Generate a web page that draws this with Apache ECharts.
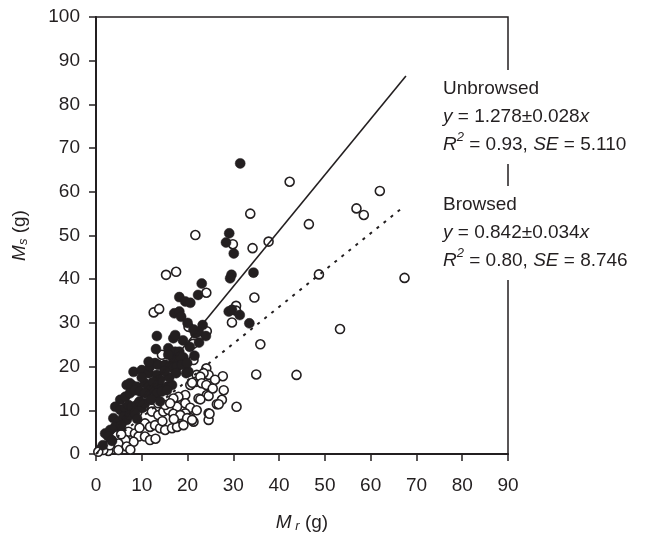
<!DOCTYPE html>
<html>
<head>
<meta charset="utf-8">
<script src="https://cdn.jsdelivr.net/npm/echarts@6/dist/echarts.min.js"></script>
<style>
  html, body { margin: 0; padding: 0; background: #fff; }
  #chart { width: 660px; height: 534px; }
</style>
</head>
<body>
<div id="chart"></div>
<script>
// x ticks / y ticks
var xTicks = [0, 10, 20, 30, 40, 50, 60, 70, 80, 90];
var yTicks = [0, 10, 20, 30, 40, 50, 60, 70, 80, 90, 100];

// unbrowsed shoots (filled circles), [Mr, Ms]
var unbrowsed = [
  [31.5,66.5],[29.1,50.5],[28.4,48.4],[30.1,45.9],[29.6,41.0],[29.3,40.2],[34.4,41.5],
  [23.1,39.0],[22.3,36.4],[18.2,35.9],[19.5,34.9],[20.6,34.6],[17.1,32.2],[18.2,32.6],
  [18.6,31.4],[29.0,32.6],[29.7,33.0],[31.4,31.8],[33.5,29.9],[23.3,29.5],[22.4,28.0],
  [21.7,27.6],[21.3,28.5],[16.9,26.5],[17.3,27.2],[13.3,27.0],[13.1,24.0],[15.8,24.2],
  [16.0,23.4],[17.3,23.4],[18.2,23.4],[19.1,22.1],[18.8,21.9],[16.9,21.5],[15.8,22.7],
  [18.4,22.3],[8.2,18.8],[10.0,19.2],[11.5,18.5],[13.3,18.1],[11.8,20.0],[12.9,20.8],
  [13.6,20.4],[11.5,21.1],[19.7,18.5],[20.2,18.8],[15.1,20.4],[16.2,20.0],[17.7,20.0],
  [18.8,20.4],[19.9,20.8],[6.7,15.8],[7.4,16.2],[7.8,15.4],[8.9,15.4],[10.7,16.2],
  [11.5,15.4],[13.3,15.8],[14.4,15.0],[15.5,15.4],[16.6,15.8],[11.8,14.6],[5.3,12.4],
  [6.4,13.1],[7.4,13.9],[8.5,14.6],[9.6,14.3],[10.7,13.9],[13.3,13.9],[14.4,14.3],
  [15.5,14.6],[4.2,10.8],[5.3,10.1],[6.4,10.5],[7.1,11.2],[7.8,10.8],[8.9,11.2],
  [10.0,10.5],[10.7,11.6],[3.8,8.2],[4.9,7.4],[6.0,8.5],[6.7,7.8],[7.4,8.9],[8.5,9.3],
  [2.0,4.7],[3.1,5.5],[4.2,6.2],[2.7,4.0],[9.5,12.0],[12.0,12.5],[14.0,17.0],[16.0,17.5],
  [17.5,18.5],[20.5,24.5],[21.5,22.5],[19.0,26.0],[20.0,30.0],[15.0,19.0],[10.0,17.5],
  [12.5,16.5],[9.0,8.0],[5.5,6.5],[3.5,3.0],[1.5,2.0],[22.5,25.5],[24.0,27.0],[14.0,12.0]
];

// browsed shoots (open circles), [Mr, Ms]
var browsed = [
  [42.3,62.3],[62.0,60.2],[33.7,55.0],[56.9,56.2],[58.5,54.7],[46.5,52.6],[21.7,50.1],
  [29.9,48.0],[34.2,47.1],[37.7,48.6],[48.7,41.1],[67.4,40.3],[15.3,41.0],[17.5,41.7],
  [24.1,36.9],[34.6,35.8],[12.6,32.4],[13.8,33.2],[30.6,33.9],[30.6,32.8],[29.7,30.1],
  [20.2,29.1],[24.2,28.1],[35.9,25.1],[53.3,28.6],[35.0,18.2],[43.8,18.1],[21.2,25.2],
  [14.4,22.7],[21.3,21.5],[15.8,18.1],[24.1,19.6],[22.0,18.1],[27.7,17.8],[24.6,18.1],
  [23.5,18.5],[17.3,19.2],[7.8,15.8],[20.6,15.8],[21.7,16.5],[22.8,17.7],[23.1,16.2],
  [24.1,15.8],[27.9,14.6],[19.5,13.5],[18.0,13.1],[16.9,12.7],[22.4,12.7],[24.2,13.5],
  [30.7,10.8],[26.4,11.4],[24.6,9.3],[24.6,7.8],[27.5,12.4],[24.6,13.3],[22.8,12.5],
  [26.8,11.4],[19.5,11.6],[17.7,10.8],[20.6,10.6],[19.5,9.3],[18.4,8.5],[20.6,8.2],
  [21.3,7.4],[12.2,9.7],[13.6,8.9],[14.7,9.7],[15.8,10.1],[16.9,9.2],[18.4,8.9],
  [19.9,8.2],[21.0,7.8],[24.8,9.2],[10.7,7.0],[11.8,6.2],[12.9,6.6],[14.0,5.9],
  [15.1,5.5],[16.6,5.9],[17.7,6.2],[19.1,6.6],[7.1,5.1],[8.5,4.7],[9.3,4.0],[8.2,2.8],
  [6.4,3.2],[4.9,2.4],[3.4,3.2],[2.3,1.7],[1.2,1.3],[10.7,12.7],[12.2,12.4],[13.6,11.6],
  [15.1,11.2],[16.2,11.6],[10.7,4.0],[11.8,3.2],[6.7,1.7],[4.9,0.9],[2.7,0.7],[1.6,0.9],
  [0.5,0.5],[21.0,16.3],[10.4,10.8],[9.0,9.5],[13.0,3.5],[9.5,6.0],[5.5,4.5],[3.0,2.0],
  [7.5,1.0],[14.5,7.5],[17.0,8.0],[22.0,10.0],[25.5,15.0],[26.0,17.0]
];

// fitted lines, end points
var unbrowsedFit = [[0, 0], [67.7, 86.5]];
var browsedFit = [[0, 0], [67.0, 56.4]];

var ink = '#231f20';
var font = 'Liberation Sans';
var chart = echarts.init(document.getElementById('chart'));

var labelRich = {
  i: { fontStyle: 'italic', fontSize: 19, fontFamily: font, color: ink, lineHeight: 28 },
  sup: { fontStyle: 'italic', fontSize: 13, fontFamily: font, color: ink, lineHeight: 18, verticalAlign: 'top' }
};

var nameRich = {
  i: { fontStyle: 'italic', fontSize: 19, fontFamily: font, color: ink, lineHeight: 20 },
  sub: { fontStyle: 'italic', fontSize: 13, fontFamily: font, color: ink, lineHeight: 12, verticalAlign: 'bottom' }
};

var option = {
  animation: false,
  grid: {
    left: 96, right: 152, top: 17, bottom: 80,
    outerBoundsMode: 'none', containLabel: false,
    show: true, borderColor: ink, borderWidth: 1.5, backgroundColor: 'transparent'
  },
  xAxis: {
    type: 'value', min: 0, max: 90, interval: 10,
    name: '{i|M}{sub| r} (g)',
    nameLocation: 'middle', nameGap: 59,
    nameTextStyle: { fontSize: 19, fontFamily: font, color: ink, lineHeight: 20, rich: nameRich },
    axisLine: { lineStyle: { color: ink, width: 2 } },
    axisTick: { inside: false, length: 7, lineStyle: { color: ink, width: 1.5 } },
    axisLabel: { fontSize: 19, fontFamily: font, color: ink, margin: 22,
      formatter: function (v) { return xTicks.indexOf(v) >= 0 ? String(v) : ''; } },
    splitLine: { show: false }
  },
  yAxis: {
    type: 'value', min: 0, max: 100, interval: 10,
    name: '{i|M}{sub|s} (g)',
    nameLocation: 'middle', nameGap: 66, nameRotate: 90,
    nameTextStyle: { fontSize: 19, fontFamily: font, color: ink, lineHeight: 20, rich: nameRich },
    axisLine: { lineStyle: { color: ink, width: 2 } },
    axisTick: { inside: false, length: 7, lineStyle: { color: ink, width: 1.5 } },
    axisLabel: { fontSize: 19, fontFamily: font, color: ink, margin: 16,
      formatter: function (v) { return yTicks.indexOf(v) >= 0 ? String(v) : ''; } },
    splitLine: { show: false }
  },
  series: [
    {
      name: 'Browsed', type: 'scatter', data: browsed,
      symbol: 'circle', symbolSize: 9, z: 2,
      itemStyle: { color: '#fff', borderColor: ink, borderWidth: 1.6, opacity: 1 }
    },
    {
      name: 'Unbrowsed', type: 'scatter', data: unbrowsed,
      symbol: 'circle', symbolSize: 10, z: 3,
      itemStyle: { color: ink, borderColor: ink, borderWidth: 0.5, opacity: 1 }
    },
    {
      name: 'Unbrowsed fit', type: 'line', data: unbrowsedFit,
      showSymbol: false, symbol: 'none', z: 4,
      lineStyle: { color: ink, width: 1.6, type: 'solid' }
    },
    {
      name: 'Browsed fit', type: 'line', data: browsedFit,
      showSymbol: false, symbol: 'none', z: 4,
      lineStyle: { color: ink, width: 2, type: [3, 6] }
    }
  ],
  graphic: [
    {
      type: 'text', left: 438, top: 70, z: 100,
      style: {
        text: 'Unbrowsed\n{i|y} = 1.278±0.028{i|x}\n{i|R}{sup|2} = 0.93, {i|SE} = 5.110',
        fontSize: 19, fontFamily: font, fill: ink, lineHeight: 28,
        backgroundColor: '#fff', padding: [5, 4, 5, 5],
        rich: labelRich
      }
    },
    {
      type: 'text', left: 438, top: 186, z: 100,
      style: {
        text: 'Browsed\n{i|y} = 0.842±0.034{i|x}\n{i|R}{sup|2} = 0.80, {i|SE} = 8.746',
        fontSize: 19, fontFamily: font, fill: ink, lineHeight: 28,
        backgroundColor: '#fff', padding: [5, 4, 5, 5],
        rich: labelRich
      }
    }
  ]
};

chart.setOption(option);
</script>
</body>
</html>
